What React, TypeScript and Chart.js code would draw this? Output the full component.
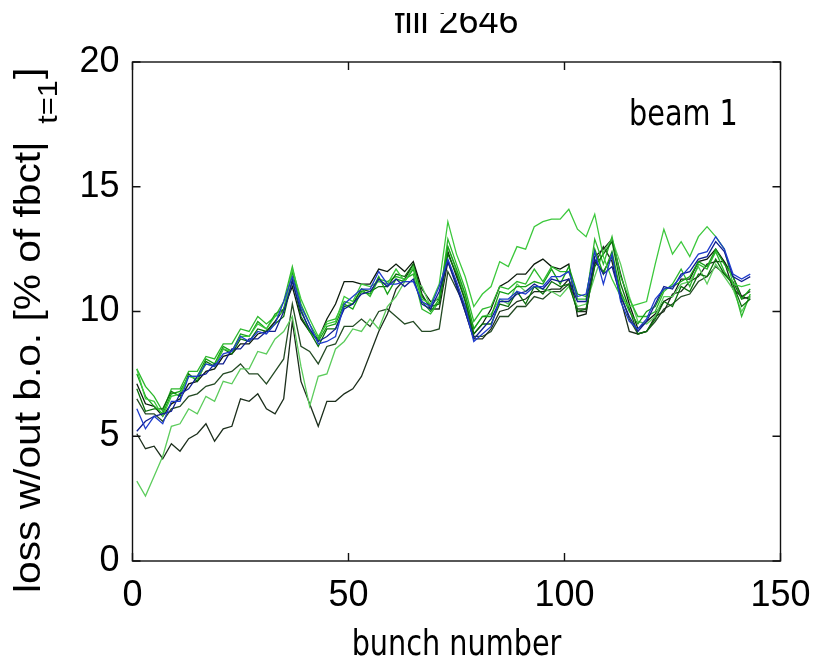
import React, { useEffect, useRef } from "react";
import { Chart, registerables } from "chart.js";

Chart.register(...registerables);

// ---------------- data ----------------
const bunches = [
  1, 3, 5, 7, 9, 11, 13, 15, 17, 19, 21, 23, 25, 27, 29, 31, 33, 35, 37, 39,
  41, 43, 45, 47, 49, 51, 53, 55, 57, 59, 61, 63, 65, 67, 69, 71, 73, 75, 77, 79,
  81, 83, 85, 87, 89, 91, 93, 95, 97, 99, 101, 103, 105, 107, 109, 111, 113, 115, 117, 119,
  121, 123, 125, 127, 129, 131, 133, 135, 137, 139, 141, 143,
];

const xTicks = [0, 50, 100, 150];
const yTicks = [0, 5, 10, 15, 20];

const seriesBlue = [
  6.1, 5.3, 5.8, 5.5, 6.4, 6.4, 7.4, 7.4, 7.9, 7.8,
  8.3, 8.4, 9.0, 8.8, 9.2, 9.1, 9.5, 10.4, 11.4, 10.2,
  9.5, 8.7, 8.8, 9.0, 10.3, 10.6, 10.9, 10.9, 11.6, 11.1,
  11.1, 11.2, 11.2, 10.4, 10.2, 11.0, 12.1, 11.2, 10.2, 8.8,
  9.1, 9.4, 10.5, 10.5, 10.8, 10.7, 11.0, 11.0, 11.4, 11.4,
  11.6, 10.6, 10.7, 12.4, 11.1, 12.3, 10.4, 9.6, 9.3, 9.7,
  10.5, 10.9, 11.0, 11.4, 11.8, 12.3, 12.4, 13.0, 12.5, 11.5,
  11.3, 11.5,
];
const seriesNavy = [
  5.2, 5.6, 5.8, 5.9, 6.0, 6.7, 6.9, 7.4, 7.5, 7.9,
  7.9, 8.5, 8.5, 8.9, 8.9, 9.2, 9.2, 10.0, 11.2, 10.0,
  9.3, 8.8, 9.0, 9.3, 10.1, 10.3, 10.7, 10.8, 11.3, 11.0,
  11.3, 11.0, 11.3, 10.3, 10.1, 10.8, 12.0, 11.0, 10.0, 8.9,
  9.3, 9.7, 10.4, 10.4, 10.7, 10.8, 11.1, 10.9, 11.3, 11.2,
  11.3, 10.4, 10.4, 12.1, 11.5, 11.8, 10.6, 9.8, 9.2, 9.6,
  10.3, 11.0, 10.9, 11.5, 11.6, 12.1, 12.2, 12.8, 12.4, 11.4,
  11.2, 11.4,
];
const seriesBrightGreen = [
  7.7, 6.5, 6.4, 5.8, 6.6, 6.7, 7.4, 7.3, 7.9, 7.8,
  8.5, 8.4, 9.0, 9.0, 9.5, 9.3, 9.8, 10.0, 11.7, 10.5,
  9.7, 9.0, 9.5, 9.6, 10.6, 10.4, 11.1, 11.0, 11.2, 11.1,
  11.7, 11.2, 11.8, 10.5, 10.3, 11.1, 13.6, 12.3, 11.4, 10.2,
  10.7, 11.0, 12.0, 11.8, 12.6, 12.5, 13.4, 13.6, 13.7, 13.7,
  14.1, 13.3, 13.0, 13.9, 12.2, 11.3, 10.6, 10.2, 10.3, 10.4,
  11.9, 13.3, 12.3, 12.8, 12.2, 13.0, 13.4, 13.0, 12.5, 11.1,
  11.0, 11.1,
];
const seriesMidGreen = [
  7.5, 6.6, 6.2, 5.9, 6.7, 6.8, 7.4, 7.4, 8.1, 7.9,
  8.6, 8.4, 9.1, 9.0, 9.6, 9.3, 9.9, 10.1, 11.6, 10.1,
  9.2, 8.8, 9.4, 9.5, 10.3, 10.1, 10.8, 10.7, 11.4, 10.7,
  11.3, 11.2, 11.7, 10.4, 10.0, 10.5, 12.6, 11.7, 10.7, 9.3,
  9.8, 9.8, 10.8, 10.7, 11.0, 11.0, 11.2, 11.1, 11.7, 11.1,
  11.8, 10.7, 10.6, 12.5, 11.5, 12.4, 10.8, 10.0, 9.5, 10.0,
  10.2, 10.9, 11.0, 11.2, 11.4, 12.0, 11.8, 12.5, 11.9, 11.4,
  10.5, 10.9,
];
const seriesDarkGreen = [
  6.9, 6.0, 6.1, 6.1, 6.8, 6.6, 7.5, 7.2, 8.0, 7.8,
  8.5, 8.3, 8.9, 8.8, 9.3, 9.2, 9.5, 9.8, 11.3, 9.8,
  9.2, 8.6, 9.3, 9.3, 10.2, 10.3, 10.9, 10.8, 11.0, 11.0,
  11.5, 11.4, 11.9, 10.6, 10.2, 10.3, 12.3, 11.5, 10.4, 9.1,
  9.5, 9.5, 10.3, 10.2, 10.8, 10.3, 11.0, 10.7, 11.2, 11.0,
  11.1, 10.0, 10.1, 11.8, 12.3, 12.8, 11.1, 10.1, 9.1, 9.2,
  9.7, 10.4, 10.2, 11.0, 10.8, 11.5, 11.4, 12.1, 11.5, 11.1,
  10.2, 10.5,
];
const seriesGreen = [
  7.7, 7.0, 6.6, 6.0, 6.9, 6.9, 7.6, 7.6, 8.2, 8.1,
  8.7, 8.7, 9.3, 9.2, 9.8, 9.5, 9.8, 10.4, 11.8, 10.3,
  9.5, 8.9, 9.6, 9.7, 10.4, 10.3, 10.9, 10.6, 11.3, 11.2,
  11.4, 11.3, 11.5, 10.1, 9.9, 10.4, 12.9, 11.9, 10.9, 9.6,
  10.1, 10.2, 11.0, 10.9, 11.2, 11.1, 11.7, 11.2, 11.8, 11.6,
  11.6, 10.5, 10.5, 12.9, 11.9, 13.0, 11.4, 10.5, 9.8, 9.8,
  10.0, 10.8, 11.1, 11.7, 11.0, 11.9, 11.7, 12.4, 11.6, 11.1,
  9.8, 10.7,
];
const seriesLightGreenLow = [
  3.2, 2.6, 3.4, 4.2, 5.4, 5.5, 6.1, 5.9, 6.6, 6.4,
  7.2, 7.1, 7.7, 7.7, 8.4, 8.3, 8.9, 9.2, 9.8, 7.8,
  6.2, 7.4, 7.5, 8.5, 8.8, 9.3, 9.2, 9.7, 9.3, 10.2,
  10.6, 11.2, 11.2, 11.0, 10.2, 10.6, 12.6, 11.6, 10.6, 9.3,
  9.8, 9.9, 10.5, 10.3, 11.1, 10.8, 11.0, 10.9, 10.8, 10.6,
  11.0, 10.2, 10.3, 11.4, 12.4, 12.9, 11.9, 10.6, 9.6, 9.5,
  9.8, 10.6, 10.6, 11.1, 11.2, 11.8, 11.1, 11.9, 11.4, 10.9,
  10.0, 10.6,
];
const seriesDarkLow = [
  5.1, 4.5, 4.6, 4.1, 4.7, 4.4, 4.9, 5.1, 5.5, 4.8,
  5.3, 5.4, 6.5, 6.4, 6.7, 6.1, 5.9, 6.5, 9.6, 7.2,
  6.3, 5.4, 6.4, 6.4, 6.7, 6.9, 7.4, 8.3, 9.2, 9.9,
  10.9, 11.3, 11.9, 10.7, 10.1, 10.1, 12.0, 11.1, 10.0, 8.9,
  8.9, 9.3, 10.0, 10.1, 10.4, 10.5, 10.8, 10.8, 10.9, 10.9,
  11.3, 10.0, 10.0, 11.9, 12.6, 12.0, 10.5, 9.2, 9.1, 9.2,
  9.8, 10.0, 10.7, 10.8, 11.2, 11.4, 11.9, 12.0, 12.0, 10.9,
  10.6, 10.8,
];
const seriesDarkMid = [
  6.5, 5.9, 5.9, 5.6, 6.1, 6.2, 6.6, 6.7, 7.0, 7.1,
  7.5, 7.6, 7.9, 7.5, 7.5, 7.1, 7.6, 8.1, 10.3, 8.6,
  8.4, 7.9, 8.6, 8.7, 9.4, 9.4, 9.7, 9.4, 10.0, 10.1,
  9.8, 9.5, 9.6, 9.2, 9.2, 9.3, 11.6, 10.9, 10.2, 9.0,
  9.0, 9.2, 9.8, 9.8, 10.2, 10.2, 10.6, 10.5, 10.8, 10.8,
  11.1, 10.1, 10.1, 12.0, 11.6, 12.2, 10.7, 9.7, 9.1, 9.2,
  9.6, 10.1, 10.3, 10.6, 10.7, 11.2, 11.4, 11.8, 11.5, 11.2,
  10.5, 10.6,
];
const seriesDarkTop = [
  7.1, 6.3, 6.2, 5.8, 6.3, 6.5, 7.1, 7.2, 7.6, 7.7,
  8.2, 8.3, 8.7, 8.7, 9.1, 9.2, 9.6, 10.1, 11.0, 9.7,
  9.2, 8.9, 9.7, 10.3, 11.2, 11.2, 11.1, 11.1, 11.7, 11.6,
  11.9, 11.6, 12.0, 10.9, 10.4, 10.5, 12.4, 11.4, 10.5, 9.1,
  9.5, 10.1, 11.0, 11.2, 11.5, 11.5, 11.9, 12.1, 11.8, 11.7,
  11.9, 9.8, 9.9, 12.2, 12.5, 12.9, 11.5, 10.3, 9.3, 9.6,
  9.9, 10.4, 10.6, 11.3, 11.3, 12.0, 12.1, 12.5, 12.0, 11.4,
  10.6, 10.5,
];

const seriesList = [
  { values: seriesBlue, color: "#1f3ccc" },
  { values: seriesNavy, color: "#101e90" },
  { values: seriesBrightGreen, color: "#3cc83c" },
  { values: seriesMidGreen, color: "#16a016" },
  { values: seriesDarkGreen, color: "#0b6e0b" },
  { values: seriesGreen, color: "#2db82d" },
  { values: seriesLightGreenLow, color: "#5ccc5c" },
  { values: seriesDarkLow, color: "#1c2e1c" },
  { values: seriesDarkMid, color: "#244a24" },
  { values: seriesDarkTop, color: "#0c1a0c" },
];

const titleText = "fill 2646";
const xLabel = "bunch number";
const yLabelMain = "loss w/out b.o. [% of fbct|";
const yLabelSub = "t=1";
const yLabelEnd = "]";
const noteText = "beam 1";

const ARIAL = '"Liberation Sans", Arial, sans-serif';
const TAHOMA = '"DejaVu Sans", Verdana, sans-serif';

const decorPlugin = {
  id: "decor",
  afterDraw(chart: any) {
    const { ctx, chartArea, scales } = chart;
    const { left, right, top, bottom } = chartArea;
    const xs = scales.x;
    const ys = scales.y;
    ctx.save();
    // frame
    ctx.strokeStyle = "#111";
    ctx.lineWidth = 1.4;
    ctx.strokeRect(left, top, right - left, bottom - top);
    // inward ticks
    ctx.beginPath();
    xTicks.forEach((v) => {
      const px = xs.getPixelForValue(v);
      ctx.moveTo(px, bottom);
      ctx.lineTo(px, bottom - 8);
      ctx.moveTo(px, top);
      ctx.lineTo(px, top + 8);
    });
    yTicks.forEach((v) => {
      const py = ys.getPixelForValue(v);
      ctx.moveTo(left, py);
      ctx.lineTo(left + 8, py);
      ctx.moveTo(right, py);
      ctx.lineTo(right - 8, py);
    });
    ctx.stroke();
    ctx.restore();

    ctx.save();
    ctx.fillStyle = "#000";
    ctx.textBaseline = "alphabetic";

    // title (top is cut off as in the reference)
    ctx.save();
    ctx.beginPath();
    ctx.rect(0, 13, chart.width, 60);
    ctx.clip();
    ctx.font = `36px ${ARIAL}`;
    ctx.textAlign = "center";
    ctx.fillText(titleText, (left + right) / 2, 33);
    ctx.restore();

    // x-axis label
    ctx.save();
    ctx.translate((left + right) / 2, 655);
    ctx.scale(0.82, 1);
    ctx.font = `35px ${TAHOMA}`;
    ctx.textAlign = "center";
    ctx.fillText(xLabel, 0, 0);
    ctx.restore();

    // annotation
    ctx.save();
    ctx.translate(629, 125);
    ctx.scale(0.82, 1);
    ctx.font = `35px ${TAHOMA}`;
    ctx.textAlign = "left";
    ctx.fillText(noteText, 0, 0);
    ctx.restore();

    // y-axis label with subscript
    ctx.save();
    ctx.translate(40, 593);
    ctx.rotate(-Math.PI / 2);
    ctx.scale(1.1, 1);
    ctx.textAlign = "left";
    ctx.font = `37px ${ARIAL}`;
    ctx.fillText(yLabelMain, 0, 0);
    const w1 = ctx.measureText(yLabelMain).width;
    const subX = w1 + 16;
    ctx.font = `28px ${ARIAL}`;
    ctx.fillText(yLabelSub, subX, 17);
    const w2 = ctx.measureText(yLabelSub).width;
    ctx.font = `37px ${ARIAL}`;
    ctx.fillText(yLabelEnd, subX + w2 + 1, 0);
    ctx.restore();

    ctx.restore();
  },
};

export default function App() {
  const canvasRef = useRef<HTMLCanvasElement>(null);

  useEffect(() => {
    if (!canvasRef.current) return;
    const datasets = seriesList.map((s) => ({
      data: bunches.map((b, i) => ({ x: b, y: s.values[i] })),
      borderColor: s.color,
      backgroundColor: s.color,
      borderWidth: 1.3,
      pointRadius: 0,
      tension: 0,
      fill: false,
    }));
    const chart = new Chart(canvasRef.current, {
      type: "line",
      data: { datasets },
      options: {
        animation: false,
        responsive: false,
        maintainAspectRatio: false,
        layout: { padding: { top: 62, right: 35.5, bottom: 0, left: 0 } },
        plugins: {
          legend: { display: false },
          tooltip: { enabled: false },
          title: { display: false },
        },
        scales: {
          x: {
            type: "linear",
            min: 0,
            max: 150,
            grid: { display: false, drawTicks: false },
            border: { display: false },
            afterBuildTicks: (scale: any) => {
              scale.ticks = xTicks.map((v) => ({ value: v }));
            },
            afterFit: (scale: any) => {
              scale.height = 97;
              scale.paddingLeft = 0;
              scale.paddingRight = 0;
            },
            ticks: {
              padding: 13,
              color: "#000",
              font: { family: ARIAL, size: 36 },
              maxRotation: 0,
              autoSkip: false,
            },
          },
          y: {
            type: "linear",
            min: 0,
            max: 20,
            grid: { display: false, drawTicks: false },
            border: { display: false },
            afterBuildTicks: (scale: any) => {
              scale.ticks = yTicks.map((v) => ({ value: v }));
            },
            afterFit: (scale: any) => {
              scale.width = 132.5;
              scale.paddingTop = 0;
              scale.paddingBottom = 0;
            },
            ticks: {
              padding: 13,
              color: "#000",
              font: { family: ARIAL, size: 36 },
              autoSkip: false,
            },
          },
        },
      },
      plugins: [decorPlugin],
    } as any);
    return () => chart.destroy();
  }, []);

  return (
    <div
      style={{
        position: "absolute",
        left: 0,
        top: 0,
        width: 816,
        height: 658,
        background: "#fff",
      }}
    >
      <canvas
        ref={canvasRef}
        width={816}
        height={658}
        style={{ width: 816, height: 658, display: "block" }}
      />
    </div>
  );
}
